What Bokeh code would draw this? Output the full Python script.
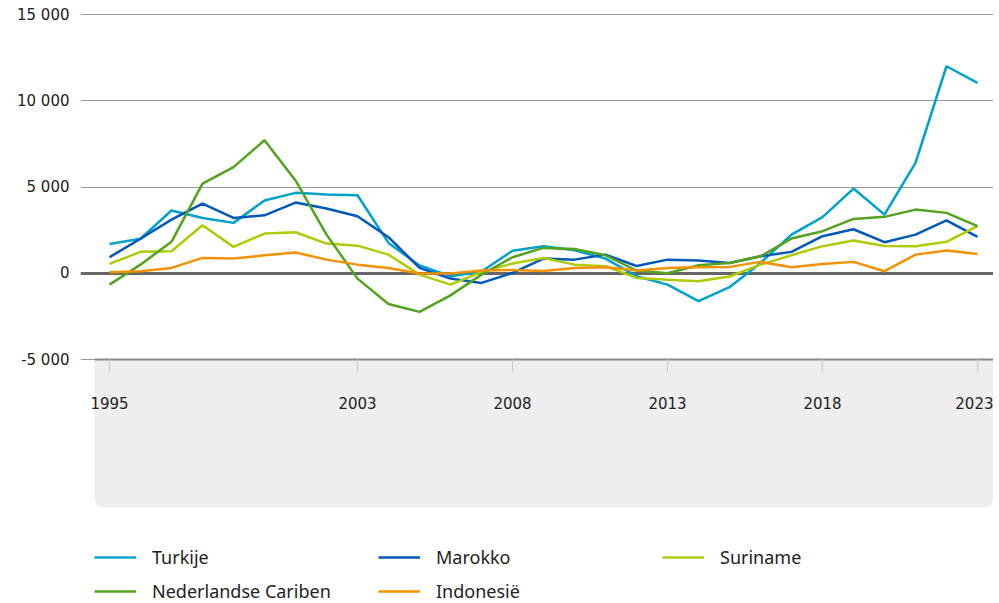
from bokeh.plotting import figure
from bokeh.models import (Range1d, FixedTicker, LinearAxis, Grid, BoxAnnotation,
                          Legend, LegendItem)
from bokeh.embed import file_html
from bokeh.resources import INLINE

years = [1995, 1996, 1997, 1998, 1999, 2000, 2001, 2002, 2003, 2004,
         2005, 2006, 2007, 2008, 2009, 2010, 2011, 2012, 2013, 2014,
         2015, 2016, 2017, 2018, 2019, 2020, 2021, 2022, 2023]

turkije = [1700, 2000, 3640, 3200, 2920, 4220, 4660, 4560, 4520, 1760,
           450, -170, 100, 1300, 1570, 1330, 850, -170, -660, -1620,
           -810, 600, 2240, 3250, 4910, 3400, 6400, 12000, 11040]
marokko = [930, 2000, 3110, 4040, 3210, 3360, 4100, 3750, 3300, 2090,
           310, -310, -560, 20, 850, 790, 1080, 420, 790, 740,
           600, 990, 1240, 2150, 2550, 1800, 2240, 3060, 2110]
suriname = [540, 1240, 1280, 2780, 1530, 2300, 2380, 1720, 1600, 1080,
            -80, -660, 80, 560, 890, 500, 410, -270, -370, -460,
            -190, 500, 1040, 1570, 1900, 1580, 1570, 1820, 2730]
cariben = [-660, 500, 1820, 5200, 6150, 7710, 5380, 2240, -310, -1780,
           -2240, -1280, -80, 930, 1470, 1410, 1040, 160, 0, 460,
           600, 990, 2010, 2440, 3150, 3270, 3690, 3500, 2730]
indonesie = [60, 120, 310, 890, 850, 1040, 1200, 790, 500, 310,
             -20, -20, 160, 190, 130, 310, 350, 160, 310, 350,
             370, 660, 350, 540, 660, 120, 1080, 1320, 1120]

series_names = ["Turkije", "Marokko", "Suriname", "Nederlandse Cariben", "Indonesië"]
series_colors = ["#00A1CD", "#0058B8", "#AFCB05", "#53A31D", "#F39200"]

x_ticks = [1995, 2003, 2008, 2013, 2018, 2023]
y_ticks = [-5000, 0, 5000, 10000, 15000]
y_tick_labels = ["-5 000", "0", "5 000", "10 000", "15 000"]

FONT = "DejaVu Sans"

X_START, X_END = 1994.516, 2023.516   # extent of the plotted panel

# frame spans from the top gridline area down to the bottom of the page;
# 1 px = 57.97 data units vertically, 31 px per year horizontally
p = figure(width=993, height=603, output_backend="svg", toolbar_location=None,
           x_range=Range1d(1994.065, X_END), y_range=Range1d(-19144, 15232),
           x_axis_location=None, min_border_left=80, min_border_right=0,
           min_border_top=10, min_border_bottom=0)
p.outline_line_color = None
p.background_fill_color = "white"
p.border_fill_color = "white"

# grey panel under the x axis
box = BoxAnnotation(top=-5000, bottom=-13580, left=X_START, fill_color="#eeeeee",
                    fill_alpha=1.0, line_color=None, level="underlay",
                    border_radius=dict(top_left=0, top_right=0,
                                       bottom_right=10, bottom_left=10))
p.add_layout(box)

p.xgrid.visible = False
p.ygrid.ticker = FixedTicker(ticks=y_ticks)
p.ygrid.grid_line_color = "#9a9a9a"
p.ygrid.grid_line_width = 1
p.ygrid.bounds = (X_START, X_END)

zero_grid = Grid(dimension=1, ticker=FixedTicker(ticks=[0]), bounds=(X_START, X_END),
                 grid_line_color="#666666", grid_line_width=3)
p.add_layout(zero_grid)

yax = p.yaxis[0]
yax.ticker = FixedTicker(ticks=y_ticks)
yax.major_label_overrides = {t: l for t, l in zip(y_ticks, y_tick_labels)}
yax.axis_line_color = None
yax.major_tick_line_color = None
yax.minor_tick_line_color = None
yax.major_label_standoff = 5
yax.major_label_text_font = FONT
yax.major_label_text_font_size = "15px"
yax.major_label_text_color = "#222222"

xax = LinearAxis(ticker=FixedTicker(ticks=x_ticks), fixed_location=-5000,
                 bounds=(X_START, X_END))
xax.major_label_overrides = {t: str(t) for t in x_ticks}
xax.axis_line_color = "#888888"
xax.axis_line_width = 2
xax.major_tick_line_color = "#cccccc"
xax.major_tick_line_width = 1
xax.major_tick_out = 13
xax.major_tick_in = 0
xax.minor_tick_line_color = None
xax.major_label_standoff = 24
xax.major_label_text_font = FONT
xax.major_label_text_font_size = "15px"
xax.major_label_text_color = "#222222"
p.add_layout(xax, "below")

all_series = [turkije, marokko, suriname, cariben, indonesie]
items = []
for name, color, vals in zip(series_names, series_colors, all_series):
    r = p.line(years, vals, line_color=color, line_width=2.5)
    items.append(LegendItem(label=name, renderers=[r]))

legend = Legend(items=items, orientation="horizontal", ncols=3,
                location=(14, 0), margin=0, padding=0, spacing=10,
                glyph_width=42, glyph_height=18, label_height=18,
                label_width=216, label_standoff=16,
                label_text_font="Noto Sans", label_text_font_size="18px",
                label_text_color="#222222", label_text_baseline="middle",
                border_line_color=None, background_fill_alpha=0)
p.add_layout(legend, "center")

open("out.html", "w").write(file_html(p, INLINE))
